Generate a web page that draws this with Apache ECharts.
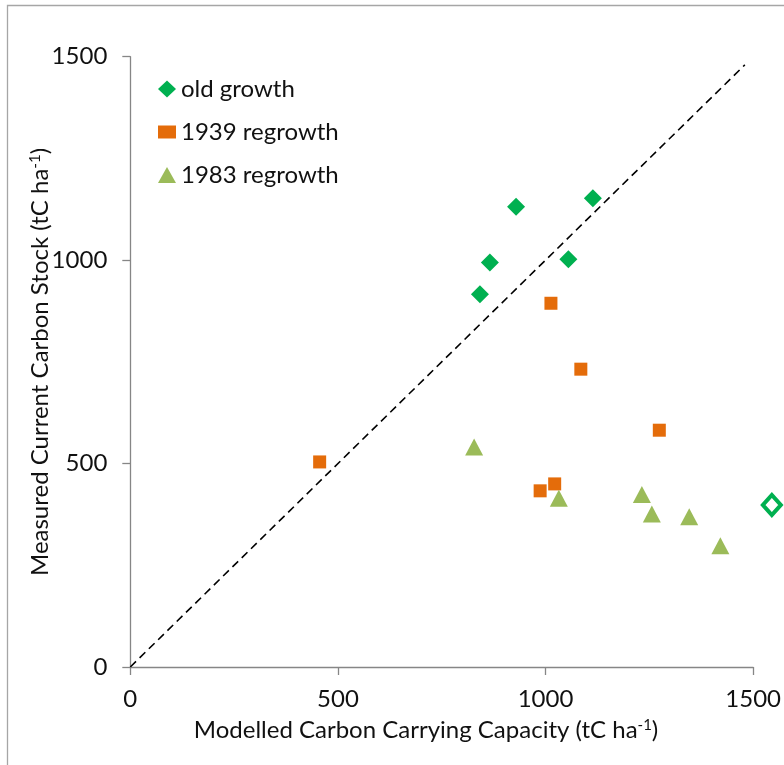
<!DOCTYPE html>
<html>
<head>
<meta charset="utf-8">
<script src="https://cdn.jsdelivr.net/npm/echarts@6/dist/echarts.min.js"></script>
<style>
  html, body { margin: 0; padding: 0; background: #fff; }
  #chart { width: 784px; height: 765px; }
</style>
</head>
<body>
<div id="chart"></div>
<script>
// Carbon stock vs modelled carrying capacity (tC ha-1)
var axisTicks = [0, 500, 1000, 1500];

var oldGrowthX = [842, 866, 929, 1055, 1114];
var oldGrowthY = [916, 994, 1131, 1002, 1152];

var regrowth1939X = [456, 987, 1013, 1022, 1085, 1274];
var regrowth1939Y = [504, 433, 894, 450, 732, 582];

var regrowth1983X = [828, 1032, 1232, 1256, 1346, 1421];
var regrowth1983Y = [541, 415, 424, 376, 369, 298];

// old-growth site lying beyond the axis range, shown as an open marker
var oldGrowthOpenX = [1545];
var oldGrowthOpenY = [398];

// 1:1 reference line
var oneToOneX = [0, 1480];
var oneToOneY = [0, 1480];

function pairs(xs, ys) {
  return xs.map(function (x, i) { return [x, ys[i]]; });
}

var FONT = 'Lato';
var FS = 24;
var GREEN = '#00B050', ORANGE = '#E46C0A', OLIVE = '#9BBB59';

var chart = echarts.init(document.getElementById('chart'), null, { renderer: 'canvas' });

var axisCommon = {
  type: 'value',
  min: axisTicks[0],
  max: axisTicks[axisTicks.length - 1],
  interval: 500,
  splitLine: { show: false },
  axisLine: { show: true, onZero: false, lineStyle: { color: '#868686', width: 1.3 } },
  axisTick: { show: true, inside: false, length: 8, lineStyle: { color: '#868686', width: 1.3 } },
  axisLabel: {
    color: '#111', fontFamily: FONT, fontSize: FS,
    formatter: function (v) { return String(v); }
  }
};

function legendItem(name, icon, top, w, h) {
  return {
    data: [{ name: name, icon: icon }],
    left: 153, top: top,
    itemWidth: w, itemHeight: h,
    selectedMode: false,
    textStyle: { color: '#111', fontFamily: FONT, fontSize: FS, padding: [0, 0, 0, 0] }
  };
}

chart.setOption({
  animation: false,
  backgroundColor: '#fff',
  grid: { left: 130.3, right: 29, top: 56.7, bottom: 98 },
  xAxis: Object.assign({}, axisCommon, {
    axisLabel: Object.assign({}, axisCommon.axisLabel, { margin: 20 })
  }),
  yAxis: Object.assign({}, axisCommon, {
    axisLabel: Object.assign({}, axisCommon.axisLabel, { margin: 23 })
  }),
  legend: [
    legendItem('old growth', 'diamond', 72, 18, 17),
    legendItem('1939 regrowth', 'rect', 115, 18, 13),
    legendItem('1983 regrowth', 'triangle', 158, 18, 16)
  ],
  graphic: [
    {
      type: 'rect', silent: true, z: -10,
      shape: { x: 7.5, y: 5.5, width: 900, height: 900 },
      style: { fill: 'none', stroke: '#a6a6a6', lineWidth: 1.3 }
    },
    {
      type: 'text', silent: true,
      x: 426, y: 730,
      style: {
        text: 'Modelled Carbon Carrying Capacity (tC ha{sup|-1})',
        fill: '#111', font: FS + 'px ' + FONT,
        align: 'center', verticalAlign: 'middle',
        rich: { sup: { fontSize: 15, fontFamily: FONT, fill: '#111', padding: [0, 0, 10, 0] } }
      }
    },
    {
      type: 'text', silent: true,
      x: 40, y: 362, rotation: Math.PI / 2,
      style: {
        text: 'Measured Current Carbon Stock (tC ha{sup|-1})',
        fill: '#111', font: FS + 'px ' + FONT,
        align: 'center', verticalAlign: 'middle',
        rich: { sup: { fontSize: 15, fontFamily: FONT, fill: '#111', padding: [0, 0, 10, 0] } }
      }
    }
  ],
  series: [
    {
      name: '1:1', type: 'line', data: pairs(oneToOneX, oneToOneY),
      symbol: 'none', silent: true, z: 1,
      lineStyle: { color: '#000', width: 1.6, type: [8, 5] }
    },
    {
      name: 'old growth', type: 'scatter', data: pairs(oldGrowthX, oldGrowthY),
      symbol: 'diamond', symbolSize: [18, 18], z: 3,
      itemStyle: { color: GREEN, opacity: 1 }
    },
    {
      name: '1939 regrowth', type: 'scatter', data: pairs(regrowth1939X, regrowth1939Y),
      symbol: 'rect', symbolSize: 13, z: 3,
      itemStyle: { color: ORANGE, opacity: 1 }
    },
    {
      name: '1983 regrowth', type: 'scatter', data: pairs(regrowth1983X, regrowth1983Y),
      symbol: 'triangle', symbolSize: [18, 17], z: 3,
      itemStyle: { color: OLIVE, opacity: 1 }
    },
    {
      name: 'old growth open', type: 'scatter', data: pairs(oldGrowthOpenX, oldGrowthOpenY),
      symbol: 'diamond', symbolSize: [18, 20], clip: false, z: 3,
      itemStyle: { color: '#fff', borderColor: GREEN, borderWidth: 4, opacity: 1 }
    }
  ]
});
</script>
</body>
</html>
